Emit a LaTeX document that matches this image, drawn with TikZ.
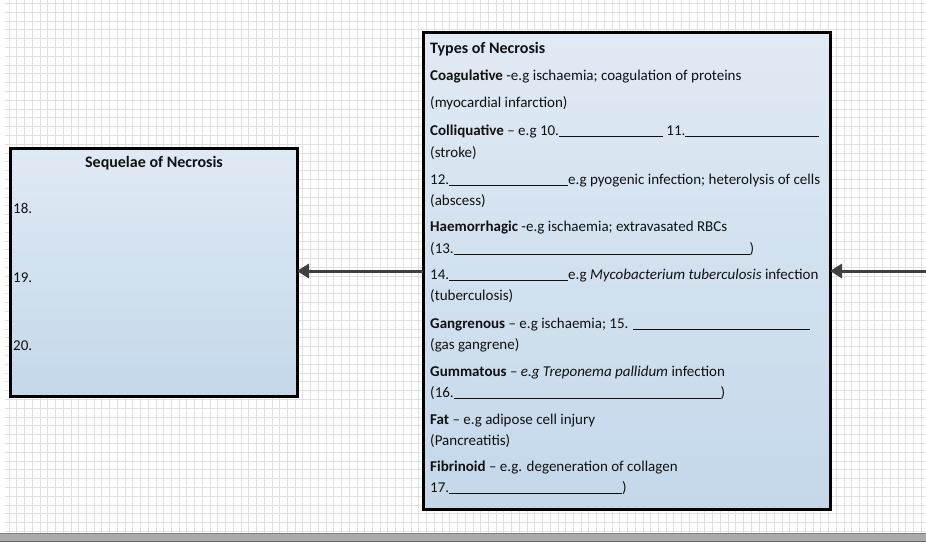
\documentclass[tikz,border=0pt]{standalone}
\usepackage{fontspec}
\setmainfont{Carlito}
\usetikzlibrary{arrows.meta,shadows}
\definecolor{gridc}{HTML}{E0E0E0}
\definecolor{boxtop}{HTML}{E0EAF4}
\definecolor{boxbot}{HTML}{C4D8EA}
\definecolor{arrc}{HTML}{404040}
\definecolor{txtc}{HTML}{111111}
\definecolor{barc}{HTML}{ABABAB}
\newcommand{\blank}[1]{\rule[-1.8pt]{#1pt}{0.8pt}}
\tikzset{
  panel/.style={draw=black, line width=3pt, top color=boxtop, bottom color=boxbot,
    anchor=north west, inner sep=0pt, outer sep=0pt,
    drop shadow={shadow xshift=2pt, shadow yshift=-2pt, opacity=0.25, fill=black}},
  txt/.style={anchor=base west, inner sep=0pt, text=txtc, font=\fontsize{15}{18}\selectfont},
  ttl/.style={anchor=base, inner sep=0pt, text=txtc, font=\fontsize{16}{19}\selectfont\bfseries},
  arr/.style={draw=arrc, line width=3pt, -{Triangle[length=12pt,width=14pt]}}
}
\begin{document}
\begin{tikzpicture}[x=1pt,y=-1pt]
\useasboundingbox (0,0) rectangle (926,551);
\fill[white] (0,0) rectangle (926,551);
% grid
\foreach \i in {0,...,118} {\draw[gridc, line width=0.6pt] ({9+7.73*\i},0) -- ({9+7.73*\i},533);}
\foreach \j in {0,...,60} {\draw[gridc, line width=0.6pt] (5,{3.3+8.8*\j}) -- (926,{3.3+8.8*\j});}
% bottom bar
\fill[barc] (0,533) rectangle (926,541);
\draw[black!50, line width=0.8pt] (0,533) -- (926,533);
\draw[black!60, line width=0.8pt] (0,541) -- (926,541);
% boxes
\node[panel, minimum width=407pt, minimum height=476pt] (rbox) at (423,33) {};
\node[panel, minimum width=287pt, minimum height=248pt] (lbox) at (10,148) {};
% arrows
\coordinate (ext) at (926,271);
\draw[arr] (ext) -- (ext -| rbox.east);
\draw[arr] (rbox.west) -- (rbox.west -| lbox.east);
% right box text
\node[ttl, anchor=base west] (t0) at (430,53) {Types of Necrosis};
\node[txt] (t1) at (430,81) {\textbf{Coagulative} -e.g ischaemia; coagulation of proteins};
\node[txt] (t2) at (430,107) {(myocardial infarction)};
\node[txt] (t3) at (430,135) {\textbf{Colliquative} – e.g 10.\blank{104} 11.\blank{134}};
\node[txt] (t4) at (430,157) {(stroke)};
\node[txt] (t5) at (430,184) {12.\blank{119}e.g pyogenic infection; heterolysis of cells};
\node[txt] (t6) at (430,205) {(abscess)};
\node[txt] (t7) at (430,231) {\textbf{Haemorrhagic} -e.g ischaemia; extravasated RBCs};
\node[txt] (t8) at (430,253) {(13.\blank{296})};
\node[txt] (t9) at (430,279) {14.\blank{119}e.g \textit{Mycobacterium tuberculosis} infection};
\node[txt] (t10) at (430,300) {(tuberculosis)};
\node[txt] (t11) at (430,328) {\textbf{Gangrenous} – e.g ischaemia; 15. \blank{177}};
\node[txt] (t12) at (430,349) {(gas gangrene)};
\node[txt] (t13) at (430,376) {\textbf{Gummatous} – \textit{e.g Treponema pallidum} infection};
\node[txt] (t14) at (430,397) {(16.\blank{267})};
\node[txt] (t15) at (430,424) {\textbf{Fat} – e.g adipose cell injury};
\node[txt] (t16) at (430,445) {(Pancreatitis)};
\node[txt] (t17) at (430,471) {\textbf{Fibrinoid} – e.g. degeneration of collagen};
\node[txt] (t18) at (430,492) {17.\blank{173})};
% left box text
\node[ttl] (s0) at (154,167) {Sequelae of Necrosis};
\node[txt] (s1) at (13,213) {18.};
\node[txt] (s2) at (13,282) {19.};
\node[txt] (s3) at (13,350) {20.};
\end{tikzpicture}
\end{document}
